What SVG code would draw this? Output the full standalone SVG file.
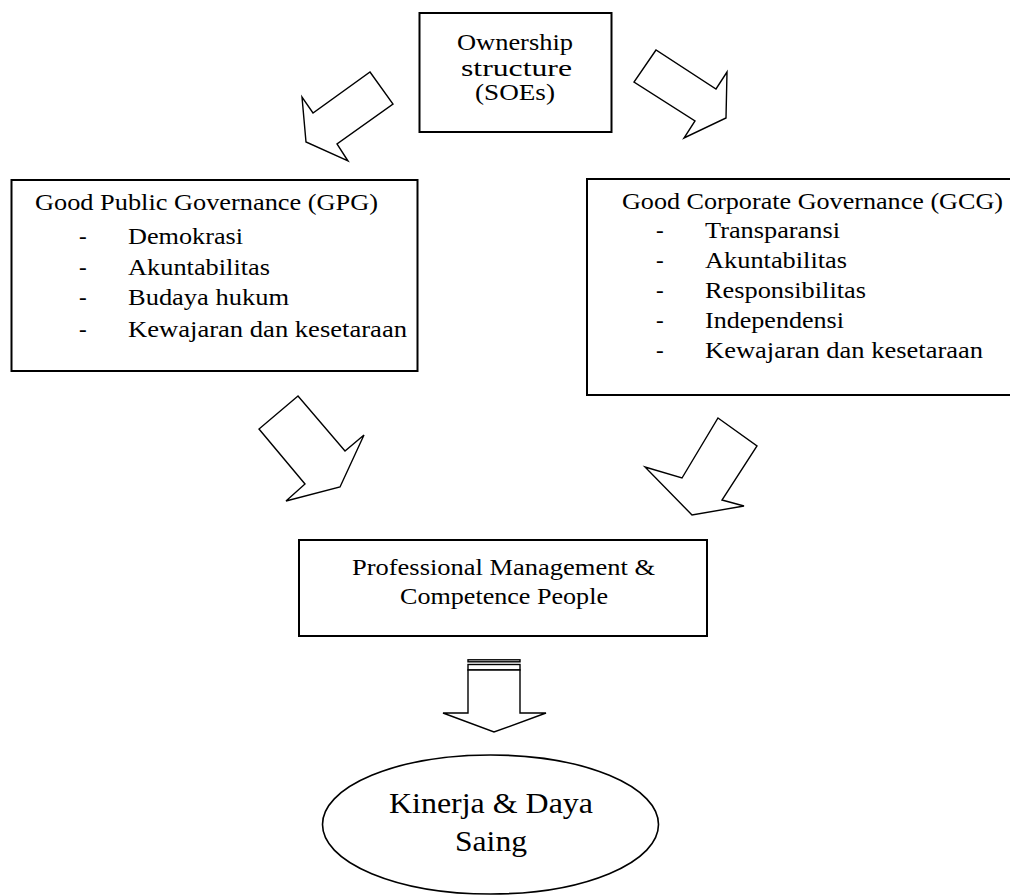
<svg xmlns="http://www.w3.org/2000/svg" width="1010" height="895" viewBox="0 0 1010 895">
<style>
.box{fill:#fff;stroke:#000;stroke-width:2}
.arr{fill:#fff;stroke:#000;stroke-width:1.4;stroke-linejoin:miter}
.t{font-family:"Liberation Serif","Times New Roman",Times,serif;font-size:23px;fill:#000}
.big{font-size:29px}
</style>
<rect width="1010" height="895" fill="#fff"/>
<g id="connectors">
<polygon class="arr" points="370,72 393,104 337,144 348,161 306,142 302,97 313,113"/>
<polygon class="arr" points="656,50 634,82 695,121 684,138 726,118 727,72 716,89"/>
<polygon class="arr" points="298,396 259,429 305,484 286,501 340,487 364,435 345,451"/>
<polygon class="arr" points="718,418 757,446 722,500 744,506 692,515 645,467 682,478"/>
<rect class="arr" x="468" y="659.8" width="52" height="2"/>
<rect class="arr" x="468" y="664.5" width="52" height="5.5"/>
<polygon class="arr" points="468,670 520,670 520,713 546,713 494,732 443,713 468,713"/>
</g>
<g id="ownership">
<rect class="box" x="419.5" y="13" width="192" height="119"/>
<text class="t" x="457" y="50" textLength="116" lengthAdjust="spacingAndGlyphs">Ownership</text>
<text class="t" x="461" y="76" textLength="111" lengthAdjust="spacingAndGlyphs">structure</text>
<text class="t" x="475" y="100" textLength="80" lengthAdjust="spacingAndGlyphs">(SOEs)</text>
</g>
<g id="gpg">
<rect class="box" x="11.5" y="180" width="406" height="191"/>
<text class="t" x="35" y="210" textLength="343" lengthAdjust="spacingAndGlyphs">Good Public Governance (GPG)</text>
<text class="t" x="79" y="244">-</text>
<text class="t" x="128" y="244" textLength="115" lengthAdjust="spacingAndGlyphs">Demokrasi</text>
<text class="t" x="79" y="274.5">-</text>
<text class="t" x="128" y="274.5" textLength="142" lengthAdjust="spacingAndGlyphs">Akuntabilitas</text>
<text class="t" x="79" y="305">-</text>
<text class="t" x="128" y="305" textLength="161" lengthAdjust="spacingAndGlyphs">Budaya hukum</text>
<text class="t" x="79" y="336.5">-</text>
<text class="t" x="128" y="336.5" textLength="279" lengthAdjust="spacingAndGlyphs">Kewajaran dan kesetaraan</text>
</g>
<g id="gcg">
<rect class="box" x="587" y="179" width="430" height="216"/>
<text class="t" x="622" y="209" textLength="381" lengthAdjust="spacingAndGlyphs">Good Corporate Governance (GCG)</text>
<text class="t" x="656" y="238">-</text>
<text class="t" x="705" y="238" textLength="135" lengthAdjust="spacingAndGlyphs">Transparansi</text>
<text class="t" x="656" y="268">-</text>
<text class="t" x="705" y="268" textLength="142" lengthAdjust="spacingAndGlyphs">Akuntabilitas</text>
<text class="t" x="656" y="298">-</text>
<text class="t" x="705" y="298" textLength="161" lengthAdjust="spacingAndGlyphs">Responsibilitas</text>
<text class="t" x="656" y="328">-</text>
<text class="t" x="705" y="328" textLength="139" lengthAdjust="spacingAndGlyphs">Independensi</text>
<text class="t" x="656" y="358">-</text>
<text class="t" x="705" y="358" textLength="278" lengthAdjust="spacingAndGlyphs">Kewajaran dan kesetaraan</text>
</g>
<g id="professional">
<rect class="box" x="299" y="540" width="408" height="96"/>
<text class="t" x="352" y="575" textLength="303" lengthAdjust="spacingAndGlyphs">Professional Management &amp;</text>
<text class="t" x="400" y="604" textLength="208" lengthAdjust="spacingAndGlyphs">Competence People</text>
</g>
<g id="kinerja">
<ellipse cx="490.5" cy="824.5" rx="168" ry="69.5" fill="#fff" stroke="#000" stroke-width="1.6"/>
<text class="t big" x="389" y="813" textLength="204" lengthAdjust="spacingAndGlyphs">Kinerja &amp; Daya</text>
<text class="t big" x="455" y="851" textLength="72" lengthAdjust="spacingAndGlyphs">Saing</text>
</g>
</svg>
